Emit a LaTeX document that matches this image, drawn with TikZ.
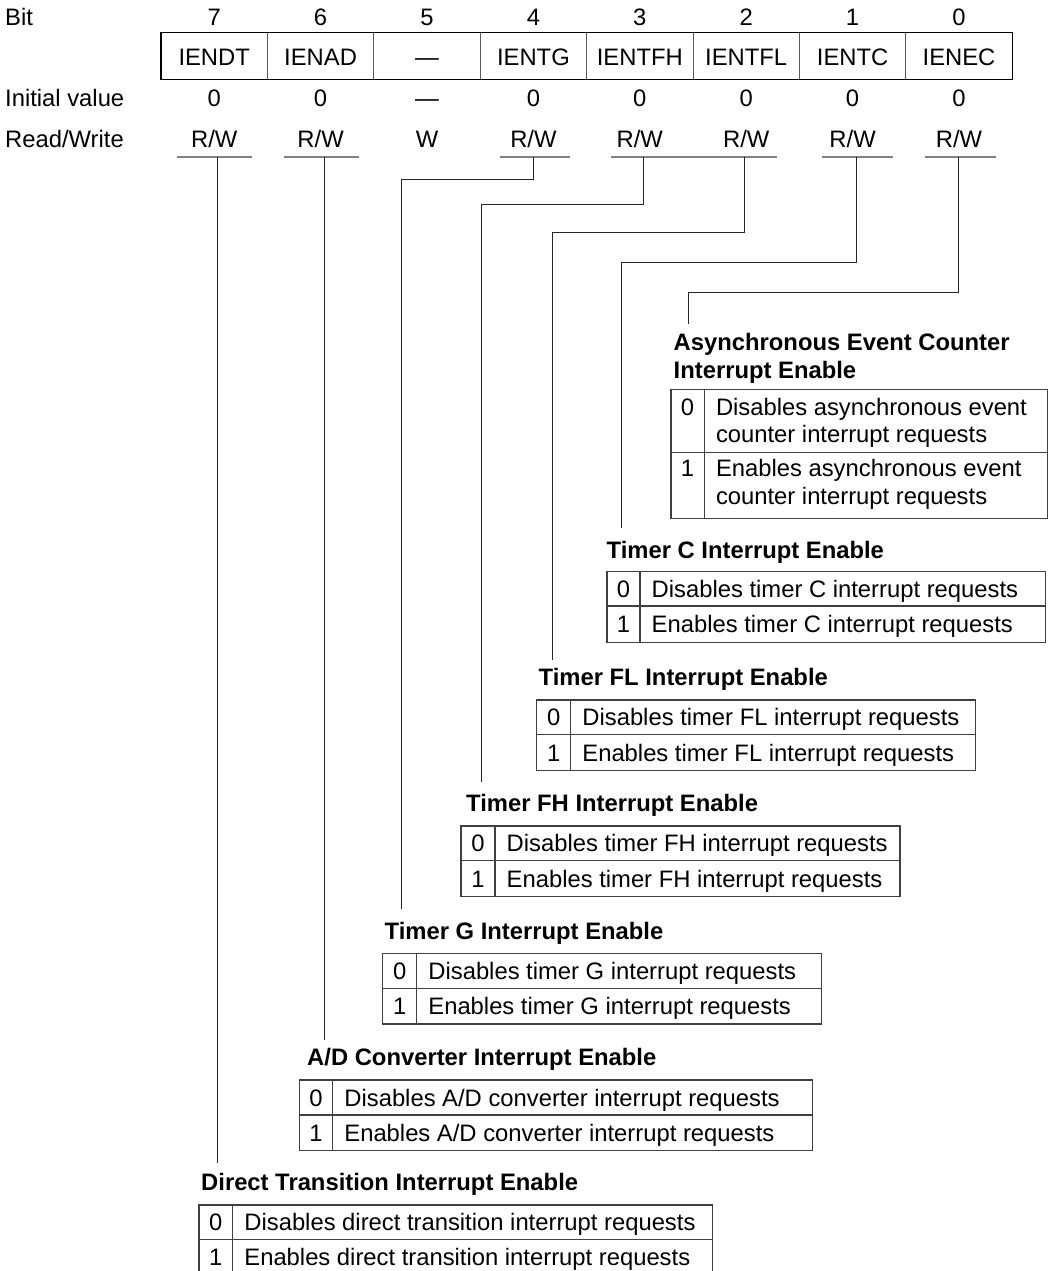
\documentclass[tikz,border=0pt]{standalone}
\usepackage{fontspec}
\setmainfont{Liberation Sans}
\newcommand{\regfs}{\fontsize{23.8}{27.3}\selectfont}
\newcommand{\rwtext}{R/W}
\newcommand{\twolines}[2]{\vtop{\hbox{#1}\hbox{#2}}}
% #1 name, #2 left, #3 divider, #4 right, #5 top, #6 mid, #7 bottom, #8 text 0, #9 text 1
\newcommand{\bittable}[9]{%
  \draw[tbl] (#3,#5) -- (#3,#7);
  \draw[tbl] (#2,#6) -- (#4,#6);
  \draw[tbl] (#2,#5) rectangle (#4,#7);
  \node[ctr] (#1a) at ({(#2+#3)/2},{(#5+#6)/2+8.5}) {0};
  \node[lft] (#1b) at ({#3+11.5},{(#5+#6)/2+8.5}) {#8};
  \node[ctr] (#1c) at ({(#2+#3)/2},{(#6+#7)/2+8.5}) {1};
  \node[lft] (#1d) at ({#3+11.5},{(#6+#7)/2+8.5}) {#9};
}
\begin{document}
\begin{tikzpicture}[x=1pt,y=-1pt,
  txt/.style={inner sep=0pt,font=\regfs},
  ctr/.style={txt,anchor=base},
  lft/.style={txt,anchor=base west},
  ttl/.style={txt,anchor=base west,font=\regfs\bfseries},
  lead/.style={draw=black!85,line width=1pt},
  uline/.style={draw=black!50,line width=1.3pt},
  tbl/.style={draw=black!75,line width=1.1pt},
  regbox/.style={draw=black,line width=1.2pt},
  regdiv/.style={draw=black!65,line width=1pt}]
\useasboundingbox (0,0) rectangle (1051,1271);
\fill[white] (0,0) rectangle (1051,1271);
\clip (0,0) rectangle (1051,1271);

% row labels
\node[lft] (lbit) at (5,25.3) {Bit};
\node[lft] (linit) at (5,106.4) {Initial value};
\node[lft] (lrw) at (5,147) {Read/Write};

% register box
\foreach \i in {1,...,7}{
  \draw[regdiv] ({161+106.4*\i},32.8) -- ({161+106.4*\i},79.4);
}
\draw[regbox] (161,32.8) rectangle (1012.2,79.4);

\foreach \b/\nm/\iv/\rw in {7/IENDT/0/\rwtext,6/IENAD/0/\rwtext,5/\textemdash/\textemdash/W,4/IENTG/0/\rwtext,3/IENTFH/0/\rwtext,2/IENTFL/0/\rwtext,1/IENTC/0/\rwtext,0/IENEC/0/\rwtext}{
  \pgfmathsetmacro{\cx}{214.2+106.4*(7-\b)}
  \node[ctr] (bit\b) at (\cx,25.3) {\b};
  \node[ctr] (reg\b) at (\cx,65.9) {\nm};
  \node[ctr] (iv\b) at (\cx,106.4) {\iv};
  \node[ctr] (rw\b) at (\cx,147) {\rw};
}

% underlines below R/W
\draw[uline] (177,157) -- (252,157);
\draw[uline] (284,157) -- (359,157);
\draw[uline] (500,157) -- (570,157);
\draw[uline] (611,157) -- (694,157);
\draw[uline] (694,157) -- (777,157);
\draw[uline] (822,157) -- (893,157);
\draw[uline] (925,157) -- (996,157);

% leader coordinates
\coordinate (u7) at (217.5,157);  \coordinate (e7) at (217.5,1163);
\coordinate (u6) at (324,157);    \coordinate (e6) at (324,1039.5);
\coordinate (u4) at (533,157);    \coordinate (k4) at (401.5,179);   \coordinate (e4) at (401.5,909);
\coordinate (u3) at (643.5,157);  \coordinate (k3) at (481,204.5);   \coordinate (e3) at (481,782);
\coordinate (u2) at (744.5,157);  \coordinate (k2) at (552.7,232);   \coordinate (e2) at (552.7,659.5);
\coordinate (u1) at (856,157);    \coordinate (k1) at (621.5,262);   \coordinate (e1) at (621.5,528.3);
\coordinate (u0) at (958.5,157);  \coordinate (k0) at (688.3,292.3); \coordinate (e0) at (688.3,324);

\draw[lead] (u7) -- (e7);
\draw[lead] (u6) -- (e6);
\draw[lead] (u4) |- (k4) -- (e4);
\draw[lead] (u3) |- (k3) -- (e3);
\draw[lead] (u2) |- (k2) -- (e2);
\draw[lead] (u1) |- (k1) -- (e1);
\draw[lead] (u0) |- (k0) -- (e0);

% bit 0: asynchronous event counter
\node[ttl] (t0) at (673.5,350.7) {\fontsize{23.8}{27.6}\selectfont\twolines{Asynchronous Event Counter}{Interrupt Enable}};
\draw[tbl] (704.3,389.5) -- (704.3,518.3);
\draw[tbl] (671,452.7) -- (1047.5,452.7);
\draw[tbl] (671,389.5) rectangle (1047.5,518.3);
\node[ctr] (tb0a) at (687.6,415) {0};
\node[lft] (tb0b) at (715.8,415) {\twolines{Disables asynchronous event}{counter interrupt requests}};
\node[ctr] (tb0c) at (687.6,476.7) {1};
\node[lft] (tb0d) at (715.8,476.7) {\twolines{Enables asynchronous event}{counter interrupt requests}};

% bit 1: timer C
\node[ttl] (t1) at (606.5,558.3) {Timer C Interrupt Enable};
\bittable{tb1}{607}{640}{1045.8}{571.8}{606}{642.5}{Disables timer C interrupt requests}{Enables timer C interrupt requests}

% bit 2: timer FL
\node[ttl] (t2) at (538.5,685.7) {Timer FL Interrupt Enable};
\bittable{tb2}{536.7}{570.7}{975.7}{700}{734.3}{770.7}{Disables timer FL interrupt requests}{Enables timer FL interrupt requests}

% bit 3: timer FH
\node[ttl] (t3) at (466,811.7) {Timer FH Interrupt Enable};
\bittable{tb3}{461}{495}{900}{826}{860.7}{896.7}{Disables timer FH interrupt requests}{Enables timer FH interrupt requests}

% bit 4: timer G
\node[ttl] (t4) at (384.5,939.3) {Timer G Interrupt Enable};
\bittable{tb4}{382.7}{416.7}{821.7}{953.3}{988.3}{1024}{Disables timer G interrupt requests}{Enables timer G interrupt requests}

% bit 6: A/D converter
\node[ttl] (t6) at (307,1065) {A/D Converter Interrupt Enable};
\bittable{tb6}{299.3}{332.7}{812.3}{1080}{1115}{1150.7}{Disables A/D converter interrupt requests}{Enables A/D converter interrupt requests}

% bit 7: direct transition
\node[ttl] (t7) at (201,1190) {Direct Transition Interrupt Enable};
\bittable{tb7}{199}{232.7}{712.3}{1205}{1239.3}{1274}{Disables direct transition interrupt requests}{Enables direct transition interrupt requests}
\end{tikzpicture}
\end{document}
